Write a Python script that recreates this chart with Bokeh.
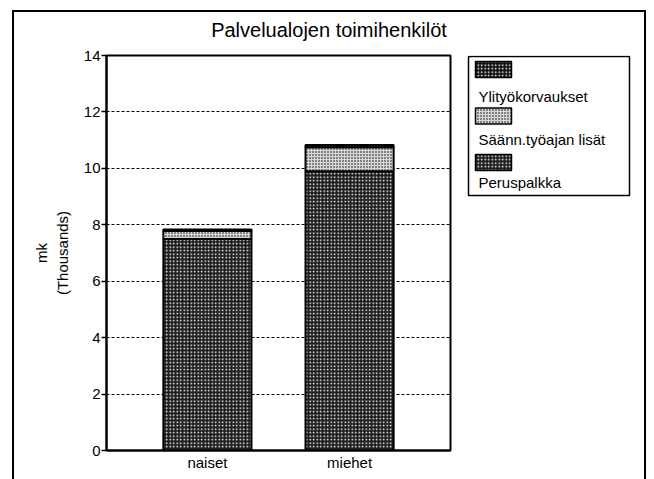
from bokeh.plotting import figure
from bokeh.layouts import row, column
from bokeh.models import (FactorRange, Range1d, FixedTicker, ColumnDataSource, Div)
from bokeh.core.properties import value
from bokeh.transform import stack
from bokeh.embed import file_html
from bokeh.resources import INLINE

# ---- data ----
categories = ["naiset", "miehet"]
peruspalkka = [7.5, 9.9]
saann_lisat = [0.28, 0.85]
ylityo = [0.05, 0.08]
legend_names = ["Ylityökorvaukset", "Säänn.työajan lisät", "Peruspalkka"]
y_ticks = [0, 2, 4, 6, 8, 10, 12, 14]
title_text = "Palvelualojen toimihenkilöt"
y_label = "mk\n(Thousands)"

FONT = "Liberation Sans"

# fill styles (Peruspalkka, Säänn., Ylityö)
STYLE = {
    "perus": dict(fill_color="#1c1c1c", hatch_pattern="dot", hatch_color="white",
                  hatch_scale=3.5, hatch_weight=1.2),
    "saann": dict(fill_color="#d8d8d8", hatch_pattern="dot", hatch_color="black",
                  hatch_scale=3, hatch_weight=1.2),
    "yli": dict(fill_color="#111111", hatch_pattern="dot", hatch_color="white",
                hatch_scale=3.5, hatch_weight=1.2),
}

source = ColumnDataSource(dict(cat=categories, perus=peruspalkka,
                               saann=saann_lisat, yli=ylityo))

# ---------------- chart ----------------
p = figure(x_range=FactorRange(*categories, range_padding=0.21,
                               range_padding_units="absolute"),
           y_range=Range1d(0, 14),
           width=441, height=437,
           output_backend="svg", toolbar_location=None,
           min_border_left=92, min_border_right=5,
           min_border_top=13, min_border_bottom=29)
p.title.visible = False
p.background_fill_color = "white"
p.border_fill_color = "white"
p.outline_line_color = "black"
p.outline_line_width = 2

bar_kw = dict(x="cat", width=0.62, source=source, line_color="black", line_width=2)
p.vbar(bottom=0, top=stack("perus"), **STYLE["perus"], **bar_kw)
p.vbar(bottom=stack("perus"), top=stack("perus", "saann"), **STYLE["saann"], **bar_kw)
p.vbar(bottom=stack("perus", "saann"), top=stack("perus", "saann", "yli"),
       **STYLE["yli"], **bar_kw)

p.yaxis.ticker = FixedTicker(ticks=y_ticks)
p.yaxis.minor_tick_line_color = None
p.yaxis.major_tick_out = 5
p.yaxis.major_tick_in = 0
p.yaxis.major_label_standoff = 1
p.yaxis.axis_line_width = 2
p.yaxis.axis_label = y_label
p.yaxis.axis_label_standoff = 10
p.yaxis.axis_label_text_font_style = "normal"
p.yaxis.axis_label_text_font = FONT
p.yaxis.axis_label_text_font_size = "15px"
p.yaxis.axis_label_text_color = "black"

p.xaxis.major_label_standoff = 3
p.xaxis.major_tick_out = 0
p.xaxis.major_tick_in = 0
p.xaxis.axis_line_width = 2

for ax in (p.xaxis, p.yaxis):
    ax.axis_line_color = "black"
    ax.major_label_text_font = FONT
    ax.major_label_text_font_size = "15px"
    ax.major_label_text_color = "black"
    ax.major_tick_line_width = 1.5
p.yaxis.major_tick_line_color = "black"
p.xaxis.major_tick_line_color = None

p.xgrid.visible = False
p.ygrid.ticker = FixedTicker(ticks=y_ticks[1:-1])
p.ygrid.grid_line_color = "black"
p.ygrid.grid_line_dash = "3 2"
p.ygrid.grid_line_width = 1.2

# ---------------- legend panel ----------------
# frame shares the chart frame's vertical extent; ranges are in pixels
lg = figure(x_range=Range1d(0, 169), y_range=Range1d(395, 0),
            width=189, height=437, output_backend="svg", toolbar_location=None,
            min_border_left=10, min_border_right=10,
            min_border_top=13, min_border_bottom=29)
lg.title.visible = False
lg.axis.visible = False
lg.grid.visible = False
lg.outline_line_color = None
lg.background_fill_color = "white"
lg.border_fill_color = "white"

lg.quad(left=3, right=164, top=1, bottom=140, fill_color=None,
        line_color="black", line_width=1.5)

keys = ["yli", "saann", "perus"]
for i, (k, name) in enumerate(zip(keys, legend_names)):
    lg.rect(x=28, y=14 + 46.5 * i, width=36, height=16, line_color="black",
            line_width=1.5, **STYLE[k])
    lg.text(x=[13], y=[41 + 43 * i], text=[name], text_font=value(FONT),
            text_font_size="15px", text_baseline="middle", text_align="left",
            text_color="black")

# ---------------- title ----------------
title = Div(text=('<div style="font-family:\'Liberation Sans\';font-size:20px;'
                  'color:black;text-align:center;width:630px;line-height:24px;'
                  'margin:0;padding-top:6px">' + title_text + '</div>'),
            width=630, height=30, margin=0)

layout = column(title, row(p, lg, spacing=0), spacing=0)
layout.styles = {"margin-left": "14px", "margin-top": "12px",
                 "outline": "2px solid black"}

open("out.html", "w").write(file_html(layout, INLINE))
